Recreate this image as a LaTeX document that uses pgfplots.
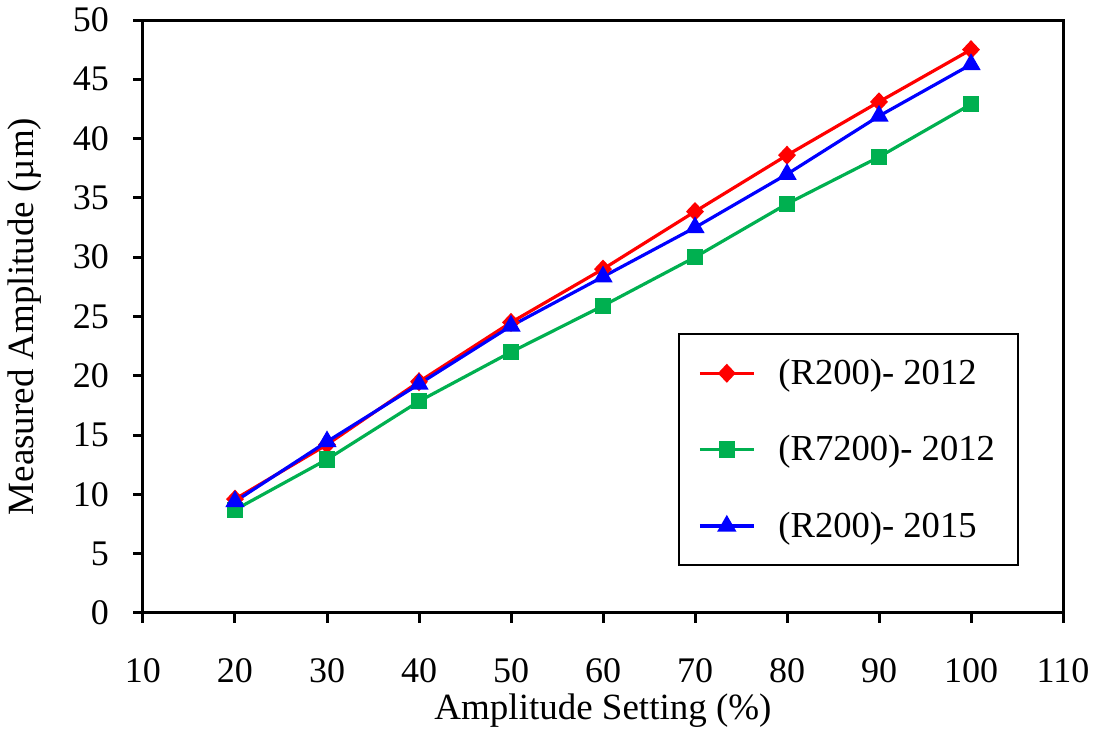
\documentclass[border=0pt]{standalone}
\usepackage{pgfplots}
\pgfplotsset{compat=1.18}
\usepackage{fontspec}
\setmainfont{Liberation Serif}
\definecolor{cred}{RGB}{255,0,0}
\definecolor{cgreen}{RGB}{0,176,80}
\definecolor{cblue}{RGB}{0,0,255}
\begin{document}
\begin{tikzpicture}
\begin{axis}[
  scale only axis,
  width=460pt, height=296.5pt,
  xmin=10, xmax=110, ymin=0, ymax=50,
  xtick={10,20,...,110}, ytick={0,5,...,50},
  tick align=outside, tick pos=left,
  major tick length=5pt,
  axis line style={line width=1.5pt},
  tick style={line width=1.5pt, black},
  /pgf/number format/assume math mode=true,
  ticklabel style={font=\fontsize{18}{21}\selectfont},
  xticklabel style={yshift=-14pt},
  yticklabel style={xshift=-8.5pt},
  xlabel={Amplitude Setting (\%)},
  ylabel={Measured Amplitude (µm)},
  label style={font=\fontsize{18.5}{21}\selectfont, inner sep=1pt},
  xlabel style={at={(axis description cs:0.5,0)}, anchor=base, yshift=-53.5pt},
  ylabel style={at={(axis description cs:0,0.5)}, anchor=base, yshift=54.5pt},
  legend cell align=left,
  legend style={at={(0.952,0.079)}, anchor=south east, draw=black, line width=0.9pt,
    font=\fontsize{18.3}{21}\selectfont, inner xsep=9.5pt, inner ysep=10.5pt,
    row sep=20pt,
    /tikz/every odd column/.append style={column sep=9.5pt},
    /tikz/every even column/.append style={column sep=5pt}},
  legend image code/.code={\draw[mark repeat=2,mark phase=2] plot coordinates {(0pt,0pt) (13.5pt,0pt) (27pt,0pt)};},
  every axis plot/.append style={line width=1.6pt},
]
\addplot[cred, mark=diamond*, mark size=3.6pt, mark options={solid, fill=cred, xscale=1.25}] coordinates {
(20,9.6) (30,14.2) (40,19.5) (50,24.5) (60,29.0) (70,33.85) (80,38.6) (90,43.1) (100,47.5)};
\addlegendentry{(R200)- 2012}
\addplot[cgreen, mark=square*, mark size=3.3pt, mark options={solid, fill=cgreen}] coordinates {
(20,8.7) (30,12.95) (40,17.85) (50,22.0) (60,25.9) (70,30.0) (80,34.5) (90,38.45) (100,42.9)};
\addlegendentry{(R7200)- 2012}
\addplot[cblue, mark=triangle*, mark size=4pt, mark options={solid, fill=cblue}] coordinates {
(20,9.4) (30,14.45) (40,19.3) (50,24.2) (60,28.35) (70,32.5) (80,37.0) (90,41.9) (100,46.25)};
\addlegendentry{(R200)- 2015}
\end{axis}
\path ([xshift=-71.5pt,yshift=-59.5pt]current axis.south west) rectangle ([xshift=19.5pt,yshift=10pt]current axis.north east);
\end{tikzpicture}
\end{document}
